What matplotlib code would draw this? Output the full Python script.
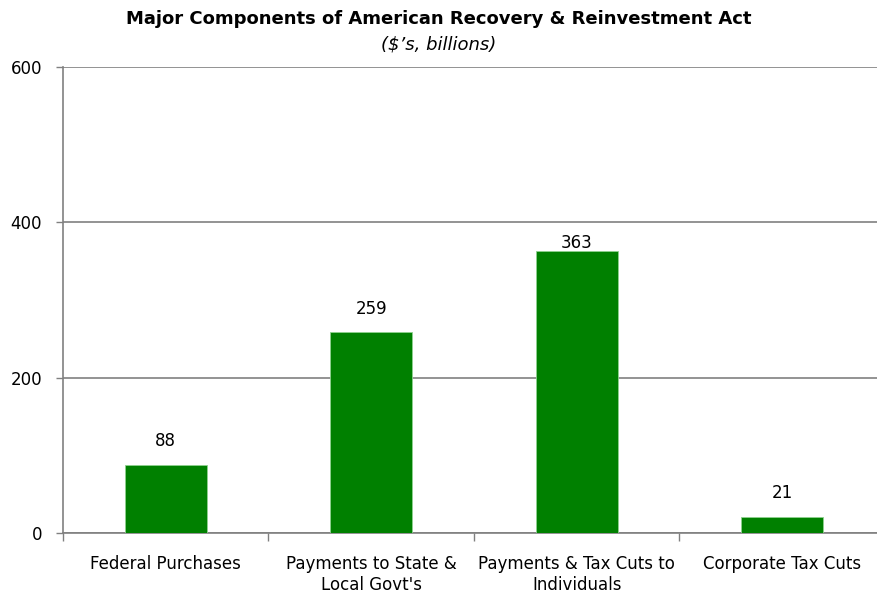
"""
Bar chart of the major components of the American Recovery & Reinvestment Act
"""

import numpy as np
import matplotlib.pyplot as plt

# data ($ billions)
categories = ['Federal Purchases', 'Payments to State &\nLocal Govt\'s',
              'Payments & Tax Cuts to\nIndividuals', 'Corporate Tax Cuts']
values = [88, 259, 363, 21]
yticks = [0, 200, 400, 600]

plt.rcParams['font.family'] = ['DejaVu Sans']

fig = plt.figure(figsize=(8.77, 5.97), dpi=100)
ax = fig.add_axes([0.0718, 0.1072, 0.9373, 0.7806])

x = np.arange(len(values))
ax.bar(x, values, width=0.4, color='#008000', edgecolor='#8fd18f', linewidth=0.6, zorder=3)

# value labels above the bars, kept under the 400 gridline
for xi, v in zip(x, values):
    ax.text(xi, min(v + 30, 373), str(v), ha='center', va='center',
            fontsize=12, color='black', zorder=4)

ax.set_xlim(-0.5, len(values) - 0.5)
ax.set_ylim(0, 600)
ax.set_yticks(yticks)
ax.set_yticklabels([str(t) for t in yticks], fontsize=12)
ax.set_xticks(x)
ax.set_xticklabels(categories, fontsize=12, linespacing=1.2)
ax.tick_params(axis='x', length=0, pad=16)
ax.set_xticks(np.arange(len(values) + 1) - 0.5, minor=True)
ax.tick_params(axis='x', which='minor', length=6, color='#808080', width=1)
ax.tick_params(axis='y', length=5, color='#808080', width=1, pad=10)

ax.yaxis.grid(True, color='#808080', linewidth=1.2, zorder=0)
for s in ['top', 'right']:
    ax.spines[s].set_visible(False)
for s in ['left', 'bottom']:
    ax.spines[s].set_color('#808080')
    ax.spines[s].set_linewidth(1.2)

fig.text(0.5, 0.968, 'Major Components of American Recovery & Reinvestment Act',
         ha='center', va='center', fontsize=13, fontweight='bold')
fig.text(0.5, 0.925, '($\u2019s, billions)', ha='center', va='center',
         fontsize=13, style='italic')

plt.savefig('out.png', dpi=100)
